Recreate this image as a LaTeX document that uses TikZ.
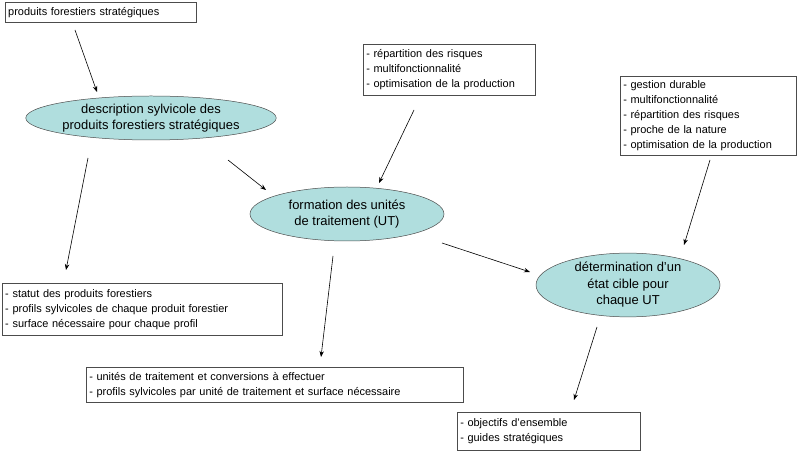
\documentclass[tikz,border=0pt]{standalone}
\usepackage{fontspec}
\setmainfont{Liberation Sans}
\usetikzlibrary{shapes.geometric,arrows.meta}
\definecolor{ellfill}{RGB}{176,222,222}
\begin{document}
\begin{tikzpicture}[x=1bp,y=-1bp,
  box/.style={draw=black!70,line width=0.5pt,fill=white,align=left,font=\fontsize{11}{15}\selectfont,inner sep=3pt},
  ell/.style={ellipse,draw=black!70,line width=0.5pt,fill=ellfill,align=center,font=\fontsize{13}{16.5}\selectfont,inner sep=0pt},
  arr/.style={-{Stealth[length=6pt,width=4.5pt]},line width=0.6pt}]
\useasboundingbox (0,0) rectangle (800,452);
\fill[white] (0,0) rectangle (800,452);
\node[box,minimum width=191bp,minimum height=20bp,anchor=north west,text width=185bp] (b1) at (5,2) {produits forestiers stratégiques};
\node[ell,minimum width=200bp,minimum height=44bp] (e1) at (151,118) {description sylvicole des\\produits forestiers stratégiques};
\node[box,anchor=north west,minimum width=172bp,minimum height=51bp,text width=166bp] (b2) at (363,44) {- répartition des risques\\- multifonctionnalité\\- optimisation de la production};
\node[ell,minimum width=194bp,minimum height=54bp] (e2) at (347,214) {formation des unités\\de traitement (UT)};
\node[box,anchor=north west,minimum width=176bp,minimum height=79bp,text width=170bp] (b3) at (620,76) {- gestion durable\\- multifonctionnalité\\- répartition des risques\\- proche de la nature\\- optimisation de la production};
\node[ell,minimum width=184bp,minimum height=60bp] (e3) at (628,285) {détermination d’un\\état cible pour\\chaque UT};
\node[box,anchor=north west,minimum width=280bp,minimum height=52bp,text width=274bp] (b4) at (2,283) {- statut des produits forestiers\\- profils sylvicoles de chaque produit forestier\\- surface nécessaire pour chaque profil};
\node[box,anchor=north west,minimum width=377bp,minimum height=35bp,text width=371bp] (b5) at (86,367) {- unités de traitement et conversions à effectuer\\- profils sylvicoles par unité de traitement et surface nécessaire};
\node[box,anchor=north west,minimum width=183bp,minimum height=38bp,text width=177bp] (b6) at (457,412) {- objectifs d’ensemble\\- guides stratégiques};
\coordinate (a1s) at (75,30); \coordinate (a1e) at (97,92);
\coordinate (a2s) at (88,158); \coordinate (a2e) at (66,270);
\coordinate (a3s) at (228,160); \coordinate (a3e) at (266,190);
\coordinate (a4s) at (414,110); \coordinate (a4e) at (379,183);
\coordinate (a5s) at (442,243); \coordinate (a5e) at (530,272);
\coordinate (a6s) at (333,256); \coordinate (a6e) at (321,357);
\coordinate (a7s) at (710,160); \coordinate (a7e) at (684,245);
\coordinate (a8s) at (597,327); \coordinate (a8e) at (574,400);
\foreach \i in {1,...,8}{\draw[arr] (a\i s) -- (a\i e);}
\end{tikzpicture}
\end{document}
